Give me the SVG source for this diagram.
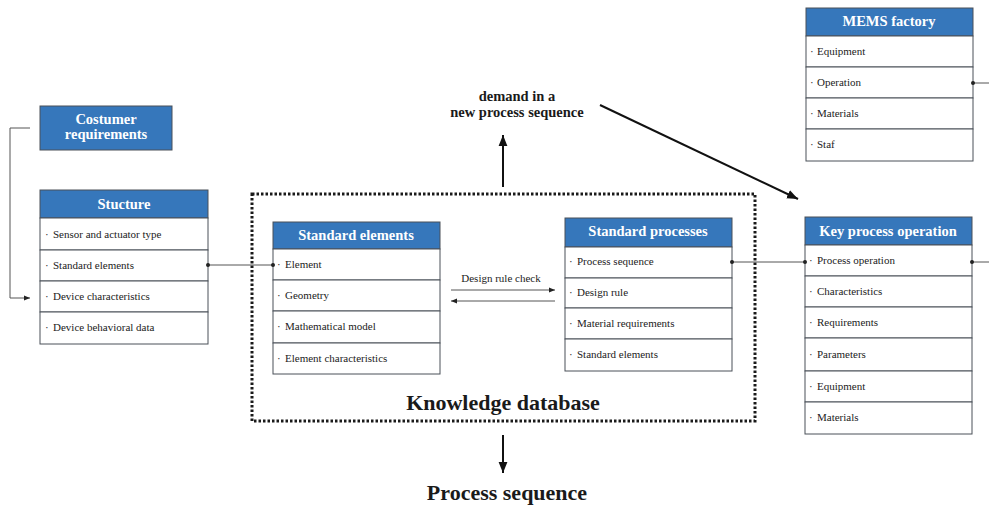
<svg xmlns="http://www.w3.org/2000/svg" width="989" height="508" viewBox="0 0 989 508">
<style>
.hdr{fill:#3677bb;stroke:#4a5058;stroke-width:1}
.row{fill:#fff;stroke:#4a5058;stroke-width:1}
.ht{font-family:"Liberation Serif",serif;font-weight:bold;font-size:14.5px;fill:#fff;text-anchor:middle}
.rt{font-family:"Liberation Serif",serif;font-size:11px;fill:#222}
.bt{font-family:"Liberation Serif",serif;font-size:11px;fill:#222}
.ln{stroke:#555;stroke-width:1;fill:none}
.dot{fill:#222}
.big{font-family:"Liberation Serif",serif;font-weight:bold;fill:#1a1a1a;text-anchor:middle}
</style>
<defs>
<marker id="ah" viewBox="0 0 10 10" refX="10" refY="5" markerWidth="6" markerHeight="6" orient="auto-start-reverse" markerUnits="userSpaceOnUse"><path d="M0,1 L10,5 L0,9 z" fill="#222"/></marker>
<marker id="ahb" viewBox="0 0 10 10" refX="10" refY="5" markerWidth="11" markerHeight="11" orient="auto" markerUnits="userSpaceOnUse"><path d="M0,1 L10,5 L0,9 z" fill="#111"/></marker>
</defs>

<rect x="252" y="194" width="503" height="227" fill="none" stroke="#1a1a1a" stroke-width="3" stroke-dasharray="2.5,2"/>
<text class="big" x="503" y="410" font-size="22">Knowledge database</text>

<g id="costumer">
<rect class="hdr" x="40" y="106" width="132" height="44"/>
<text class="ht" x="106" y="124" font-size="12.5">Costumer</text>
<text class="ht" x="106" y="139" font-size="12.5">requirements</text>
</g>

<g id="stucture">
<rect class="hdr" x="40" y="190" width="168" height="28"/>
<text class="ht" x="124" y="209">Stucture</text>
<rect class="row" x="40" y="218" width="168" height="32"/>
<rect class="row" x="40" y="250" width="168" height="31"/>
<rect class="row" x="40" y="281" width="168" height="31"/>
<rect class="row" x="40" y="312" width="168" height="32"/>
<text class="rt" x="45" y="238">·<tspan x="53">Sensor and actuator type</tspan></text>
<text class="rt" x="45" y="269">·<tspan x="53">Standard elements</tspan></text>
<text class="rt" x="45" y="300">·<tspan x="53">Device characteristics</tspan></text>
<text class="rt" x="45" y="331">·<tspan x="53">Device behavioral data</tspan></text>
</g>

<g id="standard-elements">
<rect class="hdr" x="273" y="222" width="167" height="27"/>
<text class="ht" x="356" y="240">Standard elements</text>
<rect class="row" x="273" y="249" width="167" height="31"/>
<rect class="row" x="273" y="280" width="167" height="31"/>
<rect class="row" x="273" y="311" width="167" height="32"/>
<rect class="row" x="273" y="343" width="167" height="31"/>
<text class="rt" x="277" y="268">·<tspan x="285">Element</tspan></text>
<text class="rt" x="277" y="299">·<tspan x="285">Geometry</tspan></text>
<text class="rt" x="277" y="330">·<tspan x="285">Mathematical model</tspan></text>
<text class="rt" x="277" y="362">·<tspan x="285">Element characteristics</tspan></text>
</g>

<g id="standard-processes">
<rect class="hdr" x="565" y="218" width="167" height="29"/>
<text class="ht" x="648" y="236">Standard processes</text>
<rect class="row" x="565" y="247" width="167" height="31"/>
<rect class="row" x="565" y="278" width="167" height="30"/>
<rect class="row" x="565" y="308" width="167" height="31"/>
<rect class="row" x="565" y="339" width="167" height="32"/>
<text class="rt" x="569" y="265">·<tspan x="577">Process sequence</tspan></text>
<text class="rt" x="569" y="296">·<tspan x="577">Design rule</tspan></text>
<text class="rt" x="569" y="327">·<tspan x="577">Material requirements</tspan></text>
<text class="rt" x="569" y="358">·<tspan x="577">Standard elements</tspan></text>
</g>

<g id="mems-factory">
<rect class="hdr" x="806" y="8" width="167" height="28"/>
<text class="ht" x="889" y="26">MEMS factory</text>
<rect class="row" x="806" y="36" width="167" height="31"/>
<rect class="row" x="806" y="67" width="167" height="31"/>
<rect class="row" x="806" y="98" width="167" height="31"/>
<rect class="row" x="806" y="129" width="167" height="32"/>
<text class="rt" x="810" y="55">·<tspan x="817">Equipment</tspan></text>
<text class="rt" x="810" y="86">·<tspan x="817">Operation</tspan></text>
<text class="rt" x="810" y="117">·<tspan x="817">Materials</tspan></text>
<text class="rt" x="810" y="148">·<tspan x="817">Staf</tspan></text>
</g>

<g id="key-process-operation">
<rect class="hdr" x="805" y="217" width="167" height="28"/>
<text class="ht" x="888" y="236">Key process operation</text>
<rect class="row" x="805" y="245" width="167" height="31"/>
<rect class="row" x="805" y="276" width="167" height="31"/>
<rect class="row" x="805" y="307" width="167" height="31"/>
<rect class="row" x="805" y="338" width="167" height="33"/>
<rect class="row" x="805" y="371" width="167" height="31"/>
<rect class="row" x="805" y="402" width="167" height="32"/>
<text class="rt" x="809" y="264">·<tspan x="817">Process operation</tspan></text>
<text class="rt" x="809" y="295">·<tspan x="817">Characteristics</tspan></text>
<text class="rt" x="809" y="326">·<tspan x="817">Requirements</tspan></text>
<text class="rt" x="809" y="358">·<tspan x="817">Parameters</tspan></text>
<text class="rt" x="809" y="390">·<tspan x="817">Equipment</tspan></text>
<text class="rt" x="809" y="421">·<tspan x="817">Materials</tspan></text>
</g>

<g id="demand-label">
<text class="big" x="517" y="101" font-size="14.5">demand in a</text>
<text class="big" x="517" y="117" font-size="14.5">new process sequence</text>
</g>

<g id="process-sequence-label">
<text class="big" x="507" y="500" font-size="22">Process sequence</text>
</g>

<g id="connectors">
<polyline class="ln" points="30,128 10,128 10,298 30,298" marker-end="url(#ah)"/>
<line class="ln" x1="208" y1="265" x2="273" y2="265"/>
<circle class="dot" cx="208" cy="265" r="2"/>
<circle class="dot" cx="273" cy="265" r="2"/>
<line class="ln" x1="732" y1="262" x2="805" y2="262"/>
<circle class="dot" cx="732" cy="262" r="2"/>
<circle class="dot" cx="805" cy="262" r="2"/>
<line class="ln" x1="973" y1="83" x2="989" y2="83"/>
<circle class="dot" cx="973" cy="83" r="2"/>
<line class="ln" x1="972" y1="262" x2="989" y2="262"/>
<circle class="dot" cx="972" cy="262" r="2"/>
<line class="ln" x1="451" y1="290" x2="555" y2="290" stroke="#333" marker-end="url(#ah)"/>
<line class="ln" x1="555" y1="301" x2="451" y2="301" stroke="#333" marker-end="url(#ah)"/>
<text class="bt" x="501" y="282" text-anchor="middle">Design rule check</text>
<line x1="503" y1="187" x2="503" y2="135" stroke="#111" stroke-width="2" marker-end="url(#ahb)"/>
<line x1="600" y1="105" x2="798" y2="199" stroke="#111" stroke-width="2" marker-end="url(#ahb)"/>
<line x1="503" y1="435" x2="503" y2="473" stroke="#111" stroke-width="2" marker-end="url(#ahb)"/>
</g>
</svg>
